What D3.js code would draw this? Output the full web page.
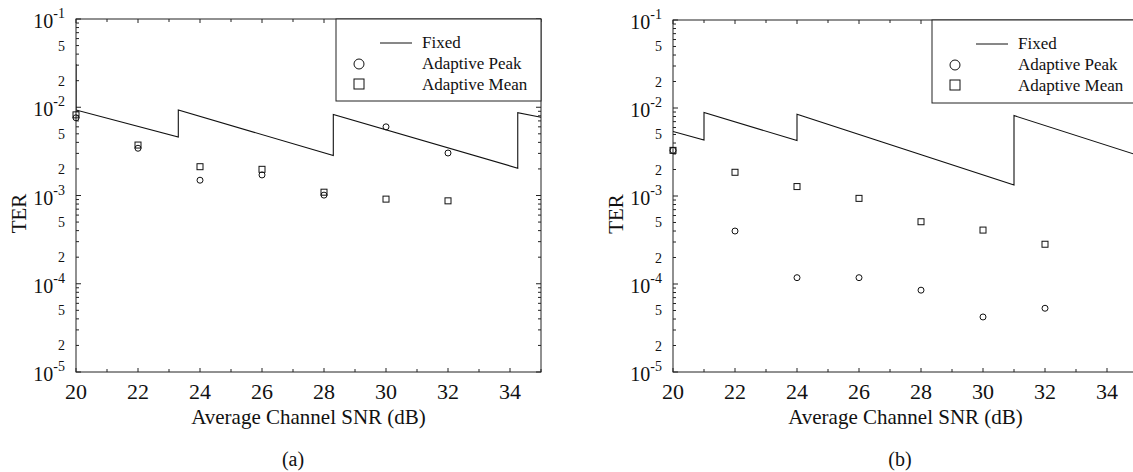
<!DOCTYPE html>
<html>
<head>
<meta charset="utf-8">
<script src="https://cdn.jsdelivr.net/npm/d3@7"></script>
<style>
  body { margin: 0; background: #fff; }
</style>
</head>
<body>
<svg id="chart" width="1133" height="472"></svg>
<script>
// ---- data ----
const snrPoints = [20, 22, 24, 26, 28, 30, 32];
const xTickLabels = [20, 22, 24, 26, 28, 30, 32, 34];
const decades = [-1, -2, -3, -4, -5];

// panel (a)
const fixedA = [[20, 0.031], [20, 0.0093], [23.3, 0.0046], [23.3, 0.0093], [28.3, 0.00283],
  [28.3, 0.0083], [34.25, 0.00204], [34.25, 0.0087], [35, 0.0077]];
const peakA = [0.0076, 0.00343, 0.00149, 0.00171, 0.00101, 0.0060, 0.00303];
const meanA = [0.0082, 0.00373, 0.00212, 0.00198, 0.00109, 0.00091, 0.00087];

// panel (b)
const fixedB = [[20, 0.0054], [21, 0.00433], [21, 0.0089], [24, 0.00426], [24, 0.0085],
  [31, 0.00133], [31, 0.0082], [35, 0.0029]];
const peakB = [0.0033, 0.0004, 0.000118, 0.000118, 0.0000851, 0.0000422, 0.000053];
const meanB = [0.0033, 0.00186, 0.00128, 0.00094, 0.00051, 0.00041, 0.000283];

const svg = d3.select("#chart")
  .attr("font-family", "Liberation Serif, Times New Roman, serif");

const panels = [
  { tag: "(a)", left: 76, right: 541, top: 19, bottom: 372, legendLeft: 336, legendBottom: 101,
    fixed: fixedA, peak: peakA, mean: meanA },
  { tag: "(b)", left: 673, right: 1138, top: 20, bottom: 372, legendLeft: 932, legendBottom: 103,
    fixed: fixedB, peak: peakB, mean: meanB },
];

panels.forEach((p, pi) => {
  const x = d3.scaleLinear().domain([20, 35]).range([p.left, p.right]);
  const y = d3.scaleLog().domain([1e-5, 1e-1]).range([p.bottom, p.top]);
  const g = svg.append("g").attr("fill", "#111");

  const clipId = "clip" + pi;
  svg.append("clipPath").attr("id", clipId).append("rect")
    .attr("x", p.left).attr("y", p.top)
    .attr("width", p.right - p.left).attr("height", p.bottom - p.top);

  // frame
  g.append("rect")
    .attr("x", p.left).attr("y", p.top)
    .attr("width", p.right - p.left).attr("height", p.bottom - p.top)
    .attr("fill", "none").attr("stroke", "#222").attr("stroke-width", 1);

  // x ticks (inside, bottom and top)
  const xt = d3.range(20, 36, 1);
  g.selectAll(".xtb").data(xt).enter().append("line")
    .attr("x1", d => x(d)).attr("x2", d => x(d))
    .attr("y1", p.bottom).attr("y2", d => p.bottom - (d % 2 === 0 ? 4 : 3))
    .attr("stroke", "#222");
  g.selectAll(".xtt").data(xt).enter().append("line")
    .attr("x1", d => x(d)).attr("x2", d => x(d))
    .attr("y1", p.top).attr("y2", d => p.top + (d % 2 === 0 ? 4 : 3))
    .attr("stroke", "#222");

  g.selectAll(".xl").data(xTickLabels).enter().append("text")
    .attr("x", d => x(d)).attr("y", p.bottom + 27)
    .attr("text-anchor", "middle").attr("font-size", 22)
    .text(d => d);

  // y ticks: all k*10^n, inside on both sides
  const yt = [];
  decades.slice(1).forEach(e => { for (let k = 1; k <= 9; k++) yt.push(k * Math.pow(10, e)); });
  yt.push(1e-1);
  const isMajor = v => Math.abs(Math.log10(v) - Math.round(Math.log10(v))) < 1e-9;
  g.selectAll(".ytl").data(yt).enter().append("line")
    .attr("x1", p.left).attr("x2", d => p.left + (isMajor(d) ? 5 : 3))
    .attr("y1", d => y(d)).attr("y2", d => y(d)).attr("stroke", "#222");
  g.selectAll(".ytr").data(yt).enter().append("line")
    .attr("x1", p.right).attr("x2", d => p.right - (isMajor(d) ? 5 : 3))
    .attr("y1", d => y(d)).attr("y2", d => y(d)).attr("stroke", "#222");

  // major labels 10^n
  const lx = p.left - 11;
  decades.forEach(e => {
    const t = g.append("text")
      .attr("x", lx).attr("y", y(Math.pow(10, e)) + 9)
      .attr("text-anchor", "end");
    t.append("tspan").attr("font-size", 20).text("10");
    t.append("tspan").attr("dy", -10).attr("font-size", 14).text(String(e));
  });
  // minor labels 2 and 5
  const minor = [];
  decades.slice(1).forEach(e => { minor.push(2 * Math.pow(10, e)); minor.push(5 * Math.pow(10, e)); });
  g.selectAll(".ml").data(minor).enter().append("text")
    .attr("x", lx).attr("y", d => y(d) + 5)
    .attr("text-anchor", "end").attr("font-size", 14)
    .text(d => Math.round(d / Math.pow(10, Math.floor(Math.log10(d) + 1e-9))));

  // fixed line
  const line = d3.line().x(d => x(d[0])).y(d => y(d[1]));
  g.append("path").datum(p.fixed)
    .attr("clip-path", `url(#${clipId})`)
    .attr("d", line).attr("fill", "none").attr("stroke", "#111").attr("stroke-width", 1.1);

  // markers
  g.selectAll(".mean").data(p.mean).enter().append("rect")
    .attr("x", (d, i) => x(snrPoints[i]) - 3).attr("y", d => y(d) - 3)
    .attr("width", 6).attr("height", 6)
    .attr("fill", "none").attr("stroke", "#111").attr("stroke-width", 1);
  g.selectAll(".peak").data(p.peak).enter().append("circle")
    .attr("cx", (d, i) => x(snrPoints[i])).attr("cy", d => y(d)).attr("r", 3)
    .attr("fill", "none").attr("stroke", "#111").attr("stroke-width", 1);

  // legend
  const lg = g.append("g");
  lg.append("rect")
    .attr("x", p.legendLeft).attr("y", p.top)
    .attr("width", p.right - p.legendLeft).attr("height", p.legendBottom - p.top)
    .attr("fill", "#fff").attr("stroke", "#222");
  const L = p.legendLeft;
  lg.append("line").attr("x1", L + 44).attr("x2", L + 76)
    .attr("y1", p.top + 24).attr("y2", p.top + 24).attr("stroke", "#111");
  lg.append("circle").attr("cx", L + 23).attr("cy", p.top + 45).attr("r", 5)
    .attr("fill", "none").attr("stroke", "#111");
  lg.append("rect").attr("x", L + 18).attr("y", p.top + 60).attr("width", 10).attr("height", 10)
    .attr("fill", "none").attr("stroke", "#111");
  const legendNames = ["Fixed", "Adaptive Peak", "Adaptive Mean"];
  lg.selectAll(".lt").data(legendNames).enter().append("text")
    .attr("x", L + 86).attr("y", (d, i) => p.top + 29 + i * 21)
    .attr("font-size", 17).text(d => d);

  // axis titles
  const cx = (p.left + p.right) / 2;
  g.append("text").attr("x", cx).attr("y", p.bottom + 52)
    .attr("text-anchor", "middle").attr("font-size", 21)
    .text("Average Channel SNR (dB)");
  g.append("text")
    .attr("transform", `translate(${p.left - 50},${(p.top + p.bottom) / 2 + 18}) rotate(-90)`)
    .attr("text-anchor", "middle").attr("font-size", 21).text("TER");
  g.append("text").attr("x", pi === 0 ? 293 : 900).attr("y", 466)
    .attr("text-anchor", "middle").attr("font-size", 20).text(p.tag);
});
</script>
</body>
</html>
